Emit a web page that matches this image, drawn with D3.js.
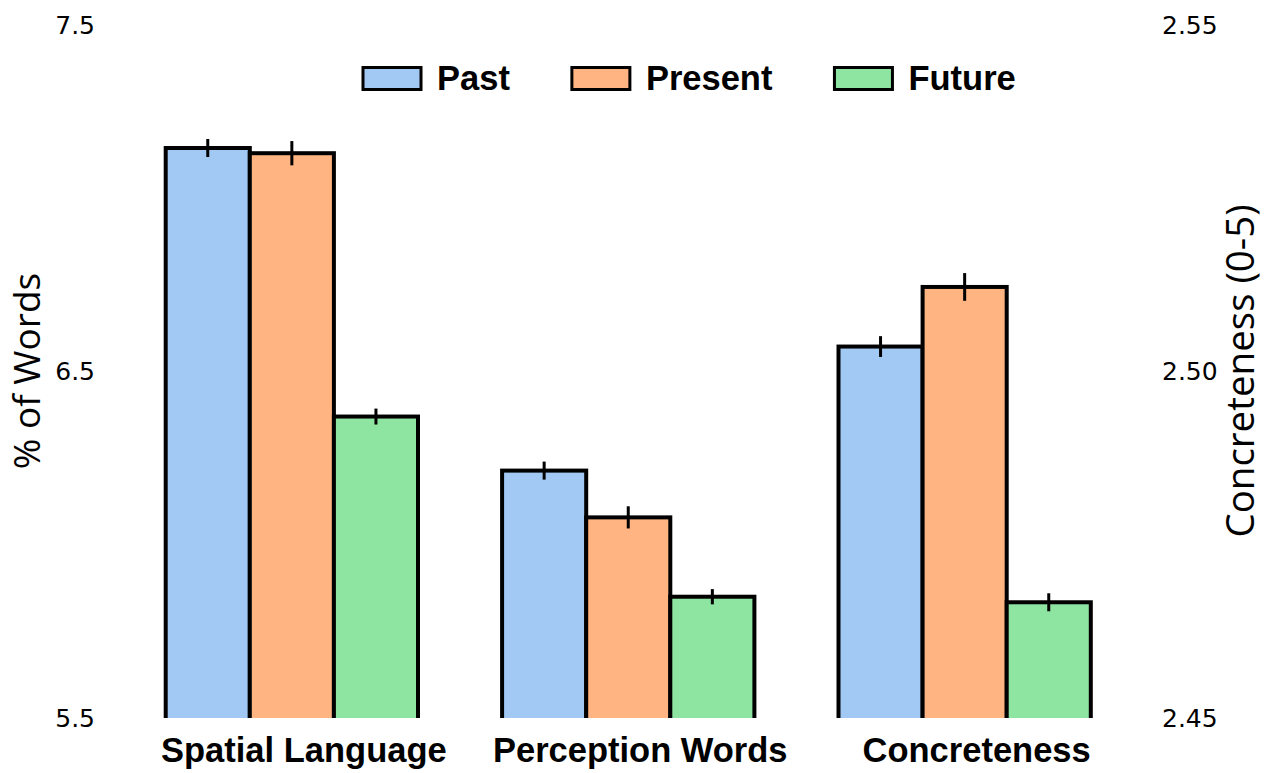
<!DOCTYPE html>
<html>
<head>
<meta charset="utf-8">
<script src="https://cdn.jsdelivr.net/npm/d3@7"></script>
<style>
  html, body { margin: 0; padding: 0; background: #fff; }
  svg { display: block; }
</style>
</head>
<body>
<svg id="chart" width="1266" height="773"></svg>
<script>
// Measures shown as groups of bars
const categories = ["Spatial Language", "Perception Words", "Concreteness"];
const series = ["Past", "Present", "Future"];
const seriesColors = ["#a1c9f4", "#ffb482", "#8de5a1"];

// Means per tense (first two groups: % of words, last group: concreteness rating)
const pastValues    = [7.145, 6.214, 2.5036];
const presentValues = [7.130, 6.079, 2.5122];
const futureValues  = [6.370, 5.850, 2.4667];

// Standard errors
const pastErrors    = [0.026, 0.026, 0.0015];
const presentErrors = [0.035, 0.032, 0.0020];
const futureErrors  = [0.023, 0.022, 0.0013];

// Which axis each category is read against
const categoryAxis = ["left", "left", "right"];

// Axis ticks
const leftTicks = [5.5, 6.5, 7.5];
const rightTicks = [2.45, 2.50, 2.55];

const svg = d3.select("#chart");
const plotTop = 25, plotBottom = 718;

const x0 = d3.scaleBand().domain(categories).range([81.6, 1174.9])
  .paddingInner(0.25).paddingOuter(0.25);
const x1 = d3.scaleBand().domain(series).range([0, x0.bandwidth()]);
const color = d3.scaleOrdinal().domain(series).range(seriesColors);

const yLeft = d3.scaleLinear().domain([5.5, 7.5]).range([plotBottom, plotTop]);
const yRight = d3.scaleLinear().domain([2.45, 2.55]).range([plotBottom, plotTop]);

const valuesBySeries = [pastValues, presentValues, futureValues];
const errorsBySeries = [pastErrors, presentErrors, futureErrors];

const rows = [];
categories.forEach((c, ci) => {
  series.forEach((s, si) => {
    rows.push({
      category: c, series: s,
      value: valuesBySeries[si][ci],
      err: errorsBySeries[si][ci],
      y: categoryAxis[ci] === "left" ? yLeft : yRight
    });
  });
});

// Clip bars at the bottom of the plot area
svg.append("defs").append("clipPath").attr("id", "plot-clip")
  .append("rect").attr("x", 0).attr("y", 0).attr("width", 1266).attr("height", plotBottom);

const bars = svg.append("g").attr("clip-path", "url(#plot-clip)");

bars.selectAll("rect.bar").data(rows).join("rect")
  .attr("class", "bar")
  .attr("x", d => x0(d.category) + x1(d.series))
  .attr("y", d => d.y(d.value))
  .attr("width", x1.bandwidth())
  .attr("height", d => plotBottom + 10 - d.y(d.value))
  .attr("fill", d => color(d.series))
  .attr("stroke", "#000")
  .attr("stroke-width", 4);

// Error bars
bars.selectAll("line.err").data(rows).join("line")
  .attr("class", "err")
  .attr("x1", d => x0(d.category) + x1(d.series) + x1.bandwidth() / 2)
  .attr("x2", d => x0(d.category) + x1(d.series) + x1.bandwidth() / 2)
  .attr("y1", d => d.y(d.value + d.err))
  .attr("y2", d => d.y(d.value - d.err))
  .attr("stroke", "#000")
  .attr("stroke-width", 3);

// Axes (labels only)
const tickFont = "DejaVu Sans, sans-serif";
const gl = svg.append("g").attr("transform", "translate(100,0)")
  .call(d3.axisLeft(yLeft).tickValues(leftTicks).tickSize(0).tickPadding(5).tickFormat(d3.format(".1f")));
const gr = svg.append("g").attr("transform", "translate(1157,0)")
  .call(d3.axisRight(yRight).tickValues(rightTicks).tickSize(0).tickPadding(5).tickFormat(d3.format(".2f")));
[gl, gr].forEach(g => {
  g.select(".domain").remove();
  g.selectAll("text").attr("font-family", tickFont).attr("font-size", 25).attr("fill", "#000");
});

// Axis titles
svg.append("text")
  .attr("transform", "translate(40,371) rotate(-90)")
  .attr("text-anchor", "middle")
  .attr("font-family", "Open Sans, sans-serif")
  .attr("font-size", 37)
  .text("% of Words");
svg.append("text")
  .attr("transform", "translate(1254,371) rotate(-90)")
  .attr("text-anchor", "middle")
  .attr("font-family", "Open Sans, sans-serif")
  .attr("font-size", 38.5)
  .text("Concreteness (0-5)");

// Category labels
svg.append("g").selectAll("text").data(categories).join("text")
  .attr("x", d => x0(d) + x0.bandwidth() / 2 + 12)
  .attr("y", 762)
  .attr("text-anchor", "middle")
  .attr("font-family", "Liberation Sans, Arial, sans-serif")
  .attr("font-weight", "bold")
  .attr("font-size", 34.5)
  .text(d => d);

// Legend
const legend = svg.append("g");
let lx = 363;
series.forEach(s => {
  const item = legend.append("g");
  item.append("rect")
    .attr("x", lx).attr("y", 67.5).attr("width", 58).attr("height", 22)
    .attr("fill", color(s)).attr("stroke", "#000").attr("stroke-width", 3);
  const t = item.append("text")
    .attr("x", lx + 74).attr("y", 90)
    .attr("font-family", "Liberation Sans, Arial, sans-serif")
    .attr("font-weight", "bold")
    .attr("font-size", 34.5)
    .text(s);
  lx = lx + 74 + t.node().getComputedTextLength() + 62;
});
</script>
</body>
</html>
